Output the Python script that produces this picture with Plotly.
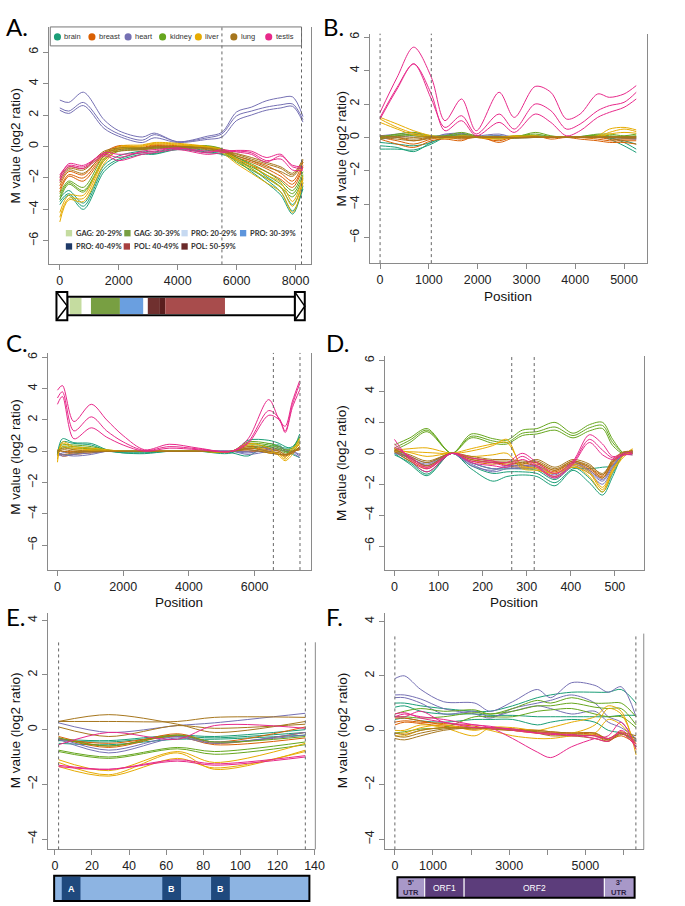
import plotly.graph_objects as go

W, H = 685, 906

tissues = ['brain', 'breast', 'heart', 'kidney', 'liver', 'lung', 'testis']
tissue_colors = ['#1B9E77', '#D95F02', '#7570B3', '#66A61E', '#E6AB02', '#A6761D', '#E7298A']

# ---------------- panel A ----------------
A_pos = [0, 300, 800, 1500, 2000, 2800, 3200, 4000, 5000, 5500, 6000, 6500, 7000, 7500, 7900, 8250]
A_brain = [[-3.7, -3.1, -4.0, -1.6, -0.9, -0.5, -0.5, -0.2, -0.4, -0.5, -0.9, -1.6, -2.3, -3.1, -4.3, -2.5],
           [-3.5, -3.0, -3.8, -1.4, -0.8, -0.4, -0.45, -0.15, -0.35, -0.45, -0.8, -1.4, -2.1, -2.9, -4.1, -2.7],
           [-3.3, -2.8, -3.6, -1.2, -0.6, -0.3, -0.35, -0.1, -0.25, -0.35, -0.7, -1.2, -1.9, -2.6, -3.7, -2.3]]
A_breast = [[-2.9, -1.9, -2.2, -0.6, -0.1, -0.15, 0.0, -0.05, -0.1, -0.3, -0.8, -1.2, -1.6, -2.1, -2.6, -1.3],
            [-2.7, -1.8, -2.0, -0.5, 0.0, -0.1, 0.05, 0.0, -0.05, -0.2, -0.7, -1.0, -1.4, -1.9, -2.4, -1.2],
            [-2.5, -1.6, -1.8, -0.4, 0.05, -0.05, 0.1, 0.05, 0.0, -0.15, -0.6, -0.9, -1.2, -1.7, -2.2, -1.0]]
A_heart = [[2.95, 2.8, 3.45, 1.7, 1.0, 0.6, 0.85, 0.3, 0.65, 0.9, 2.2, 2.5, 2.9, 3.1, 3.15, 1.9],
           [2.45, 2.25, 2.8, 1.35, 0.8, 0.4, 0.75, 0.3, 0.55, 0.8, 1.95, 2.25, 2.5, 2.65, 2.7, 1.7],
           [2.3, 2.1, 2.6, 1.15, 0.65, 0.25, 0.55, 0.25, 0.45, 0.6, 1.65, 2.0, 2.3, 2.45, 2.55, 1.55]]
A_kidney = [[-3.4, -2.4, -2.9, -0.9, -0.3, -0.2, -0.15, -0.1, -0.1, -0.3, -1.0, -1.5, -2.0, -2.6, -3.2, -2.0],
            [-3.2, -2.3, -2.8, -0.8, -0.2, -0.15, -0.1, -0.05, 0.0, -0.2, -0.9, -1.3, -1.8, -2.4, -3.0, -1.8],
            [-3.0, -2.2, -2.6, -0.6, -0.1, -0.1, -0.05, 0.0, 0.05, -0.15, -0.7, -1.1, -1.6, -2.2, -2.8, -1.6]]
A_liver = [[-4.8, -3.4, -3.5, -1.1, -0.2, 0.0, 0.15, 0.1, -0.1, -0.4, -1.1, -1.7, -2.3, -2.9, -4.2, -2.3],
           [-4.5, -3.3, -3.3, -0.9, -0.1, 0.05, 0.2, 0.15, -0.05, -0.3, -0.9, -1.4, -2.0, -2.6, -3.8, -2.1],
           [-4.2, -3.1, -3.1, -0.7, 0.0, 0.1, 0.25, 0.2, 0.0, -0.2, -0.8, -1.2, -1.8, -2.3, -3.5, -1.9]]
A_lung = [[-2.3, -1.5, -1.7, -0.5, -0.3, -0.2, -0.1, -0.05, -0.2, -0.35, -0.6, -0.9, -1.3, -1.6, -1.9, -1.0],
          [-2.1, -1.4, -1.5, -0.4, -0.2, -0.15, -0.05, 0.0, -0.15, -0.3, -0.5, -0.8, -1.1, -1.4, -1.8, -0.9],
          [-1.9, -1.3, -1.4, -0.3, -0.1, -0.1, 0.0, 0.0, -0.1, -0.25, -0.45, -0.7, -1.0, -1.3, -1.7, -0.8]]
A_testis = [[-2.0, -1.1, -1.2, -0.5, -0.7, -0.3, -0.2, -0.1, -0.3, -0.3, -0.25, -0.3, -0.7, -0.5, -1.3, -1.4],
            [-2.2, -1.3, -1.4, -0.6, -0.9, -0.5, -0.4, -0.2, -0.5, -0.4, -0.3, -0.4, -0.9, -0.8, -1.5, -1.5],
            [-1.8, -1.2, -1.3, -0.4, -0.5, -0.4, -0.3, -0.1, -0.4, -0.2, -0.35, -0.5, -1.0, -0.6, -1.2, -1.3]]

# ---------------- panel B ----------------
B_pos = [0, 350, 690, 1050, 1330, 1670, 1970, 2440, 2750, 3180, 3500, 3820, 4100, 4460, 4700, 5000, 5250]
B_brain = [[-0.5, -0.6, -0.85, -0.3, 0.0, 0.05, 0.0, 0.05, 0.0, 0.05, 0.0, 0.0, 0.05, 0.1, -0.1, -0.5, -0.9],
           [-0.7, -0.7, -0.75, -0.4, 0.0, 0.1, 0.05, 0.0, -0.05, 0.1, 0.05, 0.0, 0.0, 0.1, 0.0, -0.3, -0.7],
           [-0.3, -0.4, -0.5, -0.3, 0.05, 0.1, 0.05, 0.1, 0.0, 0.0, 0.05, 0.05, 0.0, 0.05, -0.05, -0.2, -0.4]]
B_breast = [[-0.1, -0.4, -0.6, -0.2, -0.1, -0.2, 0.1, -0.3, 0.0, 0.1, -0.1, 0.0, -0.1, -0.2, -0.3, -0.3, -0.4],
            [0.0, -0.2, -0.4, -0.1, 0.0, -0.1, 0.0, -0.2, 0.05, 0.0, 0.0, 0.05, 0.0, -0.1, -0.2, -0.2, -0.2],
            [0.1, 0.0, -0.2, 0.0, 0.05, 0.0, 0.05, -0.1, 0.0, 0.05, 0.0, 0.0, 0.0, 0.0, -0.1, -0.1, -0.1]]
B_heart = [[0.1, 0.2, 0.3, 0.0, 0.2, 0.25, 0.1, 0.2, 0.0, 0.0, 0.05, 0.0, 0.05, 0.0, 0.0, 0.0, 0.0],
           [0.0, 0.1, 0.2, 0.05, 0.15, 0.2, 0.05, 0.1, 0.0, 0.05, 0.0, 0.0, 0.0, 0.05, 0.0, -0.05, -0.1],
           [-0.1, 0.0, 0.1, 0.0, 0.1, 0.15, 0.0, 0.05, 0.0, 0.0, 0.0, 0.05, 0.0, 0.0, 0.05, 0.0, -0.05]]
B_kidney = [[0.0, 0.2, 0.3, 0.1, 0.1, 0.3, 0.1, 0.0, 0.0, 0.3, 0.1, 0.0, 0.05, 0.2, 0.2, 0.1, 0.2],
            [-0.1, 0.1, 0.2, 0.05, 0.05, 0.2, 0.05, -0.05, 0.05, 0.2, 0.05, 0.0, 0.0, 0.15, 0.1, 0.05, 0.1],
            [0.05, 0.15, 0.1, 0.0, 0.0, 0.1, 0.0, 0.0, 0.1, 0.1, 0.0, 0.05, 0.05, 0.1, 0.05, 0.0, 0.05]]
B_liver = [[1.2, 0.8, 0.4, 0.1, 0.0, 0.1, 0.05, 0.0, 0.1, 0.0, 0.05, 0.0, 0.05, 0.1, 0.5, 0.6, 0.45],
           [1.1, 0.6, 0.25, 0.05, 0.0, 0.05, 0.0, -0.1, 0.0, 0.05, 0.0, 0.0, 0.0, 0.05, 0.3, 0.5, 0.35],
           [0.9, 0.5, 0.15, 0.0, -0.05, 0.0, 0.05, 0.05, 0.05, 0.1, 0.0, 0.05, 0.0, 0.0, 0.2, 0.3, 0.25]]
B_lung = [[0.1, 0.0, -0.1, 0.0, 0.0, 0.05, 0.0, 0.0, 0.0, 0.0, 0.0, 0.0, 0.0, 0.0, 0.0, 0.0, 0.0],
          [0.0, -0.1, -0.2, -0.05, 0.05, 0.0, 0.05, 0.0, -0.05, 0.0, 0.05, 0.0, 0.0, 0.0, 0.05, 0.05, 0.05],
          [-0.05, 0.05, 0.0, 0.05, 0.0, -0.05, 0.0, 0.05, 0.0, 0.05, 0.0, 0.05, 0.05, 0.05, 0.0, -0.05, -0.05]]
B_testis = [[1.5, 3.6, 5.4, 3.6, 1.0, 2.3, 0.4, 2.7, 1.2, 3.05, 2.7, 1.1, 1.4, 2.6, 2.4, 2.6, 3.1],
            [1.2, 3.0, 4.4, 2.3, 0.6, 1.3, 0.2, 1.4, 0.5, 2.0, 1.6, 0.5, 0.8, 1.6, 1.9, 2.1, 2.7],
            [1.1, 2.9, 4.4, 2.6, 0.4, 1.0, 0.1, 0.9, 0.3, 1.4, 0.9, 0.1, 0.4, 1.2, 1.5, 1.8, 2.3]]

# ---------------- panel C ----------------
C_pos = [0, 150, 500, 1030, 1500, 2000, 2650, 3400, 4300, 5300, 5800, 6430, 6750, 6930, 7150, 7370]
C_brain = [[-0.2, 0.8, 0.55, 0.5, 0.1, -0.1, -0.15, 0.0, 0.0, -0.1, 0.7, 0.7, 0.5, 0.3, 0.2, 1.1],
           [-0.3, 0.6, 0.5, 0.4, 0.05, -0.1, -0.1, 0.0, 0.0, -0.1, -0.3, 0.5, 0.3, 0.2, 0.3, 0.9],
           [-0.1, -0.2, -0.2, 0.1, 0.0, -0.05, -0.05, 0.0, 0.0, -0.05, 0.2, 0.3, 0.4, 0.0, -0.2, -0.4]]
C_breast = [[-0.1, -0.2, -0.1, 0.0, 0.0, 0.0, 0.0, 0.0, 0.0, 0.0, 0.2, 0.1, 0.0, -0.2, -0.1, 0.3],
            [0.0, -0.3, -0.2, -0.1, 0.0, 0.0, 0.0, 0.0, 0.0, 0.0, 0.1, -0.1, -0.2, -0.3, -0.1, 0.2],
            [0.1, 0.0, 0.0, 0.0, 0.0, 0.0, 0.0, 0.0, 0.0, 0.0, 0.0, 0.0, 0.1, 0.0, 0.0, 0.1]]
C_heart = [[-0.2, -0.3, -0.2, -0.1, 0.0, 0.0, 0.0, 0.0, 0.0, 0.0, -0.1, 0.1, 0.2, 0.1, -0.1, -0.4],
           [-0.1, -0.2, -0.3, -0.2, 0.0, 0.0, 0.0, 0.0, 0.0, 0.0, -0.2, 0.0, 0.1, 0.0, 0.0, -0.2],
           [-0.3, -0.1, -0.1, 0.0, 0.0, 0.0, 0.0, 0.0, 0.0, 0.0, 0.0, 0.2, 0.3, 0.1, 0.0, -0.3]]
C_kidney = [[0.0, 0.4, 0.4, 0.3, 0.1, 0.0, 0.0, 0.0, 0.0, 0.0, 0.6, 0.5, 0.3, 0.1, 0.2, 0.9],
            [-0.1, 0.3, 0.3, 0.2, 0.05, 0.0, 0.0, 0.0, 0.0, 0.0, 0.5, 0.4, 0.2, 0.0, 0.1, 0.7],
            [-0.2, 0.2, 0.2, 0.15, 0.0, 0.0, 0.0, 0.0, 0.0, 0.0, 0.4, 0.3, 0.1, -0.1, 0.0, 0.5]]
C_liver = [[-0.7, 0.6, 0.3, 0.2, 0.1, 0.0, 0.0, 0.0, 0.0, 0.0, 0.5, 0.2, -0.3, -0.6, -0.2, 0.6],
           [-0.5, 0.5, 0.2, 0.1, 0.05, 0.0, 0.0, 0.0, 0.0, 0.0, 0.4, 0.0, -0.2, -0.5, 0.0, 0.8],
           [-0.3, 0.3, 0.1, 0.05, 0.0, 0.0, 0.0, 0.0, 0.0, 0.0, 0.3, -0.1, -0.1, -0.4, 0.2, 0.4]]
C_lung = [[0.0, 0.2, 0.1, 0.0, 0.0, 0.0, 0.0, 0.0, 0.0, 0.0, 0.3, 0.2, 0.0, -0.2, -0.1, 0.3],
          [-0.1, 0.1, 0.0, -0.05, 0.0, 0.0, 0.0, 0.0, 0.0, 0.0, 0.2, 0.0, -0.1, -0.3, 0.0, 0.2],
          [0.05, 0.0, -0.1, 0.0, 0.0, 0.0, 0.0, 0.0, 0.0, 0.0, 0.1, -0.1, -0.2, -0.2, 0.0, 0.1]]
C_testis = [[3.9, 4.2, 1.9, 3.0, 2.0, 1.0, 0.1, 0.45, 0.2, 0.0, 0.8, 3.3, 2.0, 1.6, 3.2, 4.5],
            [3.4, 3.8, 1.3, 2.2, 1.3, 0.6, 0.05, 0.3, 0.15, 0.0, 0.6, 2.6, 2.1, 1.3, 3.0, 4.3],
            [3.0, 3.5, 0.8, 1.5, 0.9, 0.4, 0.0, 0.2, 0.1, 0.0, 0.5, 2.3, 2.0, 1.2, 2.8, 3.9]]

# ---------------- panel D ----------------
D_pos = [0, 35, 74, 130, 174, 223, 255, 290, 323, 364, 405, 442, 472, 495, 521, 540]
D_brain = [[0.0, -0.7, -1.45, 0.0, -1.0, -1.8, -1.5, -1.4, -1.5, -2.1, -1.1, -1.9, -2.7, -1.5, 0.0, 0.1],
           [-0.1, -0.6, -1.35, 0.0, -0.8, -1.3, -1.2, -1.2, -1.3, -1.9, -1.0, -1.0, -0.9, -0.8, 0.0, 0.0],
           [0.1, -0.5, -1.2, 0.0, -0.6, -1.0, -1.0, -1.0, -1.1, -1.7, -0.9, -1.6, -2.5, -1.3, -0.1, -0.1]]
D_breast = [[0.3, -0.4, -0.9, 0.0, -0.4, -0.6, -0.7, -0.8, -0.7, -1.2, -0.6, -1.0, -1.5, -0.6, 0.0, 0.2],
            [0.2, -0.3, -0.8, 0.0, -0.5, -0.7, -0.6, -0.7, -0.6, -1.1, -0.5, -0.9, -1.4, -0.5, 0.1, 0.1],
            [0.1, -0.5, -1.0, 0.0, -0.3, -0.5, -0.8, -0.9, -0.8, -1.3, -0.7, -1.1, -1.6, -0.7, 0.0, 0.0]]
D_heart = [[0.2, -0.3, -0.7, 0.0, -0.7, -1.2, -1.0, -1.0, -1.0, -1.6, -0.8, -1.3, -2.0, -1.0, 0.0, 0.0],
           [0.1, -0.2, -0.6, 0.0, -0.6, -1.0, -0.9, -0.9, -0.9, -1.5, -0.7, -1.2, -1.8, -0.9, 0.0, 0.05],
           [0.0, -0.3, -0.8, 0.0, -0.8, -1.1, -0.8, -0.8, -0.8, -1.4, -0.6, -1.1, -1.7, -0.8, 0.05, 0.1]]
D_kidney = [[0.55, 1.0, 1.6, 0.0, 1.25, 0.95, 0.85, 1.5, 1.6, 2.0, 1.3, 1.85, 2.0, 0.9, 0.0, 0.1],
            [0.35, 0.85, 1.5, 0.0, 1.1, 0.8, 0.7, 1.3, 1.4, 1.7, 1.15, 1.65, 1.8, 0.7, 0.0, 0.05],
            [0.2, 0.7, 1.4, 0.0, 1.0, 0.65, 0.6, 1.15, 1.25, 1.5, 1.0, 1.45, 1.6, 0.5, -0.05, 0.15]]
D_liver = [[0.2, 0.3, 0.35, 0.0, 0.15, 0.5, 0.9, -0.9, -0.9, -1.3, -0.7, -1.2, -2.2, -1.0, -0.1, 0.3],
           [0.1, 0.1, 0.05, 0.0, 0.3, 0.6, 0.7, -0.8, -1.0, -1.5, -0.8, -1.5, -2.5, -1.2, -0.2, 0.2],
           [0.3, 0.05, -0.2, 0.0, -0.2, -0.1, 0.0, -1.0, -1.1, -1.3, -0.9, -1.3, -2.35, -1.1, -0.1, 0.0]]
D_lung = [[0.3, -0.2, -0.6, 0.0, -0.3, -0.5, -0.5, -0.6, -0.5, -1.0, -0.5, -0.8, -1.3, -0.5, 0.0, 0.2],
          [0.2, -0.1, -0.5, 0.0, -0.2, -0.4, -0.4, -0.5, -0.6, -1.1, -0.6, -0.9, -1.6, -0.6, 0.0, 0.1],
          [0.1, -0.3, -0.8, 0.0, -0.4, -0.6, -0.6, -0.7, -0.4, -0.9, -0.4, -0.7, -1.4, -0.4, 0.1, 0.0]]
D_testis = [[0.9, -0.4, -1.2, 0.0, -0.3, -0.5, -0.6, 0.0, -0.6, -1.3, -0.5, 1.2, 0.6, -0.2, 0.0, 0.1],
            [0.6, -0.3, -1.0, 0.0, -0.5, -0.6, -0.8, -0.2, -0.8, -1.5, -0.6, 0.9, 0.2, -0.3, -0.1, 0.0],
            [0.4, -0.2, -0.9, 0.0, -0.6, -0.8, -0.9, -0.4, -0.9, -1.6, -0.7, 0.7, -0.1, -0.4, -0.1, -0.1]]

# ---------------- panel E ----------------
E_pos = [2, 29, 66, 86, 135]
E_brain = [[-0.4, -0.45, -0.25, -0.3, -0.1], [-0.5, -0.55, -0.35, -0.35, -0.2], [-0.35, -0.4, -0.2, -0.25, 0.0]]
E_breast = [[-0.3, -0.65, -0.2, -0.5, -0.1], [-0.25, -0.6, -0.15, -0.45, 0.1], [-0.35, -0.5, -0.25, -0.55, -0.3]]
E_heart = [[0.25, -0.1, 0.15, 0.25, 0.6], [-0.35, -0.85, -0.3, -0.5, -0.1], [-0.3, -0.75, -0.25, -0.45, -0.2]]
E_kidney = [[-0.75, -1.0, -0.65, -0.8, -0.45], [-0.8, -1.05, -0.7, -0.9, -0.55], [-0.3, -0.6, -0.2, -0.45, -0.25]]
E_liver = [[-1.2, -1.65, -0.85, -1.45, -0.75], [-1.35, -1.7, -1.05, -1.4, -0.8], [-1.1, -1.5, -0.8, -1.2, -0.5]]
E_lung = [[0.3, 0.55, 0.2, -0.1, 0.3], [0.3, 0.3, 0.3, 0.45, 0.45], [0.1, -0.25, 0.15, 0.05, 0.2]]
E_testis = [[-0.55, -0.1, -0.35, 0.15, 0.05], [-1.3, -1.45, -1.15, -1.3, -1.0], [-1.35, -1.45, -1.1, -1.25, -0.95]]

# ---------------- panel F ----------------
F_pos = [0, 250, 680, 1280, 2100, 2500, 3090, 3740, 4085, 4640, 5250, 5600, 5940, 6330]
F_brain = [[1.0, 1.0, 0.9, 0.8, 0.7, 0.7, 0.9, 1.2, 1.3, 1.4, 1.4, 1.4, 1.5, 1.0],
           [0.85, 0.9, 0.7, 0.6, 0.6, 0.55, 0.55, 0.5, 0.5, 0.5, 0.5, 0.5, 0.55, 0.55],
           [0.4, 0.45, 0.35, 0.3, 0.4, 0.4, 0.4, 0.2, 0.3, 0.4, 0.3, 0.0, -0.1, -0.4]]
F_breast = [[0.45, 0.45, 0.35, 0.2, 0.1, 0.1, 0.0, -0.1, -0.15, -0.2, -0.2, -0.4, -0.1, -0.6],
            [0.3, 0.35, 0.3, 0.25, 0.15, 0.05, 0.0, -0.05, -0.1, -0.1, -0.15, -0.3, -0.05, -0.4],
            [0.2, 0.3, 0.25, 0.15, 0.05, 0.1, 0.05, 0.0, -0.05, -0.1, -0.1, -0.35, -0.2, -0.5]]
F_heart = [[1.9, 2.0, 1.5, 1.05, 1.0, 0.7, 1.05, 1.5, 1.2, 1.75, 1.65, 1.4, 1.6, 0.5],
           [1.3, 1.3, 1.15, 0.8, 0.6, 0.45, 0.8, 1.0, 1.1, 1.3, 1.0, 0.5, 0.3, -0.4],
           [1.2, 1.2, 1.0, 0.6, 0.7, 0.5, 0.7, 0.9, 0.8, 0.6, 0.7, 0.3, 0.1, -0.3]]
F_kidney = [[0.6, 0.7, 0.8, 0.7, 0.75, 0.6, 0.8, 1.1, 1.0, 1.2, 1.0, 1.0, 1.0, 0.5],
            [0.5, 0.5, 0.45, 0.5, 0.65, 0.6, 0.7, 0.9, 0.9, 1.0, 0.85, 0.8, 0.8, 0.2],
            [-0.1, -0.05, 0.05, 0.1, 0.5, 0.5, 0.5, 0.7, 0.75, 0.8, 0.6, 0.5, 0.5, 0.1]]
F_liver = [[0.0, 0.0, 0.2, 0.1, -0.2, 0.1, 0.1, 0.0, 0.1, 0.3, 0.5, 0.9, 0.7, -0.9],
           [-0.1, -0.1, 0.1, 0.2, 0.0, 0.1, 0.0, -0.1, -0.1, -0.1, 0.2, 0.8, 0.6, -0.7],
           [-0.2, -0.2, 0.0, 0.1, 0.1, 0.0, -0.2, -0.3, -0.3, -0.2, -0.1, 0.4, 0.2, -0.5]]
F_lung = [[-0.3, -0.35, -0.2, 0.0, 0.1, 0.1, 0.05, -0.1, -0.2, -0.2, -0.3, -0.4, -0.1, -0.5],
          [-0.2, -0.25, -0.1, 0.05, 0.1, 0.05, 0.0, -0.05, -0.1, -0.15, -0.2, -0.35, -0.15, -0.3],
          [-0.1, -0.15, 0.0, 0.1, 0.05, 0.1, 0.0, 0.0, -0.05, -0.1, -0.1, -0.3, -0.1, -0.2]]
F_testis = [[0.5, 0.5, 0.7, 0.3, 0.2, 0.1, -0.3, -0.8, -1.0, -0.6, -0.3, -0.2, 0.3, -0.7],
            [0.5, 0.6, 0.5, 0.4, 0.2, 0.15, 0.0, -0.1, -0.1, -0.2, -0.2, -0.3, -0.1, -0.6],
            [0.6, 0.65, 0.45, 0.3, 0.1, 0.1, 0.05, -0.1, -0.15, -0.15, -0.3, -0.4, 0.0, -0.5]]

# region boundaries (dotted lines), in position units
A_marks = [5500, 8200]
B_marks = [0, 1050]
C_marks = [6570, 7380]
D_marks = [266, 317]
E_marks = [2, 135]
F_marks = [0, 6325]

# gene models
A_ltr = [(-114, 254), (7976, 8311)]
A_seg_start = [334, 1056, 2039, 2985, 3396, 3577]
A_seg_end = [735, 2039, 2828, 3396, 3577, 5603]
A_seg_colors = ['#c5dca0', '#789f42', '#6a9fe0', '#70302f', '#5a1e1e', '#a84c4c']
region_labels = ['GAG: 20-29%', 'GAG: 30-39%', 'PRO: 20-29%', 'PRO: 30-39%',
                 'PRO: 40-49%', 'POL: 40-49%', 'POL: 50-59%']
region_colors = ['#c5dca0', '#789f42', '#c6d9f1', '#5d95dc', '#1f3a68', '#a84040', '#6a2a2a']

E_box = (-0.4, 137.2)
E_dom_start = [3.7, 57.9, 84.2]
E_dom_end = [13.8, 68.0, 94.3]
E_dom_labels = ['A', 'B', 'B']

F_seg_start = [67, 784, 1818, 5498]
F_seg_end = [784, 1818, 5498, 6292]
F_seg_labels = ["5'<br>UTR", 'ORF1', 'ORF2', "3'<br>UTR"]


def fx(p):
    return p / W


def fy(p):
    return 1 - p / H


panels = [
    dict(pos=A_pos, data=[A_brain, A_breast, A_heart, A_kidney, A_liver, A_lung, A_testis],
         xd=(50, 316), yd=(25, 263), xr=[-358, 8535], yr=[-7.5, 7.6],
         xt=[0, 2000, 4000, 6000, 8000], yt=[-6, -4, -2, 0, 2, 4, 6], marks=A_marks, mtop=25, full=True),
    dict(pos=B_pos, data=[B_brain, B_breast, B_heart, B_kidney, B_liver, B_lung, B_testis],
         xd=(375.7, 656.7), yd=(31.7, 261.7), xr=[-202, 5473], yr=[-7.52, 6.21],
         xt=[0, 1000, 2000, 3000, 4000, 5000], yt=[-6, -4, -2, 0, 2, 4, 6], marks=B_marks, mtop=31.7, full=True),
    dict(pos=C_pos, data=[C_brain, C_breast, C_heart, C_kidney, C_liver, C_lung, C_testis],
         xd=(48.3, 315.3), yd=(351.7, 569.3), xr=[-300, 7706], yr=[-7.58, 6.28],
         xt=[0, 2000, 4000, 6000], yt=[-6, -4, -2, 0, 2, 4, 6], marks=C_marks, mtop=351.7, full=True),
    dict(pos=D_pos, data=[D_brain, D_breast, D_heart, D_kidney, D_liver, D_lung, D_testis],
         xd=(390.7, 653.3), yd=(355, 569.3), xr=[-21.5, 565.5], yr=[-7.55, 6.28],
         xt=[0, 100, 200, 300, 400, 500], yt=[-6, -4, -2, 0, 2, 4, 6], marks=D_marks, mtop=355, full=True),
    dict(pos=E_pos, data=[E_brain, E_breast, E_heart, E_kidney, E_liver, E_lung, E_testis],
         xd=(49, 320), yd=(612, 849.3), xr=[-3.56, 140.4], yr=[-4.38, 4.28],
         xt=[0, 20, 40, 60, 80, 100, 120, 140], yt=[-4, -2, 0, 2, 4], marks=E_marks, mtop=641.7, full=False),
    dict(pos=F_pos, data=[F_brain, F_breast, F_heart, F_kidney, F_liver, F_lung, F_testis],
         xd=(390.7, 653.3), yd=(612, 849.3), xr=[-259, 6532], yr=[-4.37, 4.32],
         xt=[0, 1000, 2000, 3000, 4000, 5000, 6000], yt=[-4, -2, 0, 2, 4], marks=F_marks, mtop=633, full=False),
]

AX = '#8a8a8a'
TICKFONT = dict(family='Liberation Sans, Arial, sans-serif', size=12.5, color='#222222')

fig = go.Figure()
shapes = []
annotations = []
layout_axes = {}

for i, p in enumerate(panels):
    sfx = '' if i == 0 else str(i + 1)
    for tissue, color, reps in zip(tissues, tissue_colors, p['data']):
        for rep in reps:
            fig.add_trace(go.Scatter(
                x=p['pos'], y=rep, mode='lines', name=tissue,
                line=dict(color=color, width=1, shape='spline', smoothing=0.9),
                xaxis='x' + sfx, yaxis='y' + sfx, showlegend=False, hoverinfo='skip'))

    xt = p['xt']
    xtext = [str(v) for v in xt]
    if i == 5:
        xtext = [t if t in ('0', '1000', '3000', '5000') else '' for t in xtext]
    layout_axes['xaxis' + sfx] = dict(
        domain=[fx(p['xd'][0]), fx(p['xd'][1])], range=p['xr'], anchor='y' + sfx,
        showline=True, linecolor=AX, linewidth=1, ticks='outside', ticklen=5, tickcolor=AX,
        tickvals=xt, ticktext=xtext, showgrid=False, zeroline=False, tickfont=TICKFONT)
    layout_axes['yaxis' + sfx] = dict(
        domain=[fy(p['yd'][1]), fy(p['yd'][0])], range=p['yr'], anchor='x' + sfx,
        showline=True, mirror=p['full'], linecolor=AX, linewidth=1, ticks='outside', ticklen=5,
        tickcolor=AX, tickvals=p['yt'], ticktext=[str(v).replace('-', '\u2212') for v in p['yt']],
        tickangle=-90, showgrid=False, zeroline=False, tickfont=TICKFONT)

    for m in p['marks']:
        shapes.append(dict(type='line', xref='x' + sfx, yref='paper', x0=m, x1=m,
                           y0=fy(p['yd'][1]), y1=fy(p['mtop']),
                           line=dict(color='#666666', width=1, dash='dot')))
    if not p['full']:
        shapes.append(dict(type='line', xref='paper', yref='paper',
                           x0=fx(p['xd'][1]), x1=fx(p['xd'][1]),
                           y0=fy(p['yd'][1]), y1=fy(p['mtop']), line=dict(color=AX, width=1)))

# axis titles and panel letters
ytitle_pos = [(16, 144), (347, 147), (16, 456), (347, 462), (16, 730), (347, 730)]
for (x, y) in ytitle_pos:
    annotations.append(dict(xref='paper', yref='paper', x=fx(x), y=fy(y), text='M value (log2 ratio)',
                            textangle=-90, showarrow=False, xanchor='center', yanchor='middle',
                            font=dict(family='Liberation Sans, Arial, sans-serif', size=13.5, color='#111')))
for (x, y) in [(516, 295), (182, 602), (522, 602)]:
    annotations.append(dict(xref='paper', yref='paper', x=fx(x), y=fy(y), text='Position',
                            showarrow=False, xanchor='center', yanchor='middle',
                            font=dict(family='Liberation Sans, Arial, sans-serif', size=13.5, color='#111')))
for letter, (x, y) in zip(['A.', 'B.', 'C.', 'D.', 'E.', 'F.'],
                          [(4, 25), (326, 25), (4, 341), (329, 341), (4, 616), (329, 616)]):
    annotations.append(dict(xref='paper', yref='paper', x=fx(x), y=fy(y), text=letter,
                            showarrow=False, xanchor='left', yanchor='middle',
                            font=dict(family='Lato, sans-serif', size=24, color='#000')))

# tissue legend in panel A
shapes.append(dict(type='rect', xref='paper', yref='paper', x0=fx(51), x1=fx(306), y0=fy(44), y1=fy(25),
                   line=dict(color='#777777', width=1), fillcolor='white', layer='below'))
for cx, tissue, color in zip([58.3, 93.3, 130, 165, 201.3, 237.3, 272.7], tissues, tissue_colors):
    shapes.append(dict(type='circle', xref='paper', yref='paper', x0=fx(cx - 3.6), x1=fx(cx + 3.6),
                       y0=fy(38.6), y1=fy(31.4), fillcolor=color, line=dict(width=0)))
    annotations.append(dict(xref='paper', yref='paper', x=fx(cx + 5), y=fy(35), text=tissue,
                            showarrow=False, xanchor='left', yanchor='middle',
                            font=dict(family='Liberation Sans, Arial, sans-serif', size=7.5, color='#333')))

# region legend in panel A
legend_xy = [(70, 231.7), (129.3, 231.7), (187.3, 231.7), (246.7, 231.7),
             (70, 245), (128.7, 245), (187.3, 245)]
for (cx, cy), lab, col in zip(legend_xy, region_labels, region_colors):
    shapes.append(dict(type='rect', xref='paper', yref='paper', x0=fx(cx - 3.2), x1=fx(cx + 3.2),
                       y0=fy(cy + 3.2), y1=fy(cy - 3.2), fillcolor=col, line=dict(width=0)))
    annotations.append(dict(xref='paper', yref='paper', x=fx(cx + 5), y=fy(cy), text='<b>%s</b>' % lab,
                            showarrow=False, xanchor='left', yanchor='middle',
                            font=dict(family='Lato, sans-serif', size=7.5, color='#333')))

# gene model A
shapes.append(dict(type='rect', xref='x', yref='paper', x0=A_ltr[0][1], x1=A_ltr[1][0],
                   y0=fy(314), y1=fy(295.3), fillcolor='white', line=dict(color='black', width=2)))
for s, e, c in zip(A_seg_start, A_seg_end, A_seg_colors):
    shapes.append(dict(type='rect', xref='x', yref='paper', x0=s, x1=e, y0=fy(312.7), y1=fy(296.7),
                       fillcolor=c, line=dict(width=0)))
for s, e in A_ltr:
    shapes.append(dict(type='rect', xref='x', yref='paper', x0=s, x1=e, y0=fy(319), y1=fy(290.7),
                       fillcolor='white', line=dict(color='black', width=2)))
    shapes.append(dict(type='path', xref='x', yref='paper',
                       path='M %s,%s L %s,%s L %s,%s' % (s, fy(290.7), e, fy(304.8), s, fy(319)),
                       line=dict(color='black', width=1.5)))

# gene model E
shapes.append(dict(type='rect', xref='x5', yref='paper', x0=E_box[0], x1=E_box[1], y0=fy(901), y1=fy(875.7),
                   fillcolor='#8db4e2', line=dict(color='black', width=2)))
for s, e, lab in zip(E_dom_start, E_dom_end, E_dom_labels):
    shapes.append(dict(type='rect', xref='x5', yref='paper', x0=s, x1=e, y0=fy(900), y1=fy(876.7),
                       fillcolor='#1f497d', line=dict(width=0)))
    annotations.append(dict(xref='x5', yref='paper', x=(s + e) / 2, y=fy(888.5), text='<b>%s</b>' % lab,
                            showarrow=False, xanchor='center', yanchor='middle',
                            font=dict(family='Liberation Sans, Arial, sans-serif', size=9, color='white')))

# gene model F
for k, (s, e, lab) in enumerate(zip(F_seg_start, F_seg_end, F_seg_labels)):
    utr = k in (0, 3)
    shapes.append(dict(type='rect', xref='x6', yref='paper', x0=s, x1=e, y0=fy(897.7), y1=fy(877.3),
                       fillcolor='#a898c8' if utr else '#5c3d7b', line=dict(color='white', width=1)))
    annotations.append(dict(xref='x6', yref='paper', x=(s + e) / 2, y=fy(887.5),
                            text='<b>%s</b>' % lab if utr else lab, showarrow=False,
                            xanchor='center', yanchor='middle',
                            font=dict(family='Liberation Sans, Arial, sans-serif',
                                      size=7.5 if utr else 8.5, color='#2e2244' if utr else 'white')))
shapes.append(dict(type='rect', xref='x6', yref='paper', x0=F_seg_start[0], x1=F_seg_end[-1],
                   y0=fy(897.7), y1=fy(877.3), line=dict(color='black', width=2)))

fig.update_layout(
    width=W, height=H, margin=dict(l=0, r=0, t=0, b=0),
    paper_bgcolor='white', plot_bgcolor='white', showlegend=False,
    shapes=shapes, annotations=annotations, **layout_axes)

# drop the browser's default page margin so the figure sits at the window's top-left corner
fig.write_html("out.html", config={'displayModeBar': False},
               post_script="document.body.style.margin = '0';")
